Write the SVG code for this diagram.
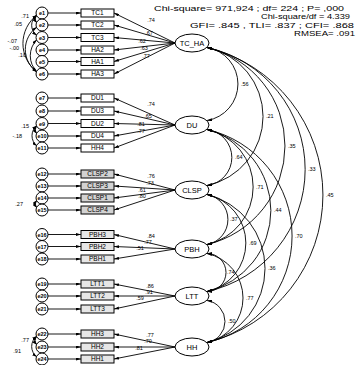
<svg xmlns="http://www.w3.org/2000/svg" width="359" height="365" viewBox="0 0 359 365">
<defs>
<marker id="ah" viewBox="0 0 10 6" refX="10" refY="3" markerWidth="5" markerHeight="3" markerUnits="userSpaceOnUse" orient="auto-start-reverse"><path d="M0,0 L10,3 L0,6 z" fill="#000"/></marker>
</defs>
<style>
.box{fill:#fff;stroke:#000;stroke-width:1}
.g1{fill:#d2d2d2}
.g2{fill:#e6e6e6}
.err{fill:#fff;stroke:#000;stroke-width:1}
.lat{fill:#fff;stroke:#000;stroke-width:1}
.t{font-family:"Liberation Sans",Arial,sans-serif;fill:#000}
.bt{font-size:6.5px;text-anchor:middle}
.et{font-size:5.5px;font-weight:bold;text-anchor:middle}
.lt{font-size:7.5px;text-anchor:middle}
.n{font-size:5.5px}
.nm{font-size:5.5px;text-anchor:middle}
.ne{font-size:5.5px;text-anchor:end}
.fit{font-size:7.2px}
.c line,.c path{stroke:#000;stroke-width:0.9;fill:none}
.a{marker-end:url(#ah)}
.d{marker-start:url(#ah);marker-end:url(#ah)}
</style>
<rect width="359" height="365" fill="#fff"/>

<g id="fit" class="t">
<text class="fit" x="154" y="10.5" textLength="190" lengthAdjust="spacingAndGlyphs">Chi-square= 971,924 ; df= 224 ; P= ,000</text>
<text class="fit" x="261" y="19" textLength="89" lengthAdjust="spacingAndGlyphs">Chi-square/df = 4.339</text>
<text class="fit" x="190" y="27.5" textLength="164" lengthAdjust="spacingAndGlyphs">GFI= .845 , TLI= .837 ; CFI= .868</text>
<text class="fit" x="294" y="36" textLength="61" lengthAdjust="spacingAndGlyphs">RMSEA= .091</text>
</g>

<g id="connectors" class="c">
<line class="a" x1="48" y1="13" x2="81" y2="13"/>
<line class="a" x1="48" y1="25" x2="81" y2="25"/>
<line class="a" x1="48" y1="37.5" x2="81" y2="37.5"/>
<line class="a" x1="48" y1="50" x2="81" y2="50"/>
<line class="a" x1="48" y1="61.5" x2="81" y2="61.5"/>
<line class="a" x1="48" y1="74" x2="81" y2="74"/>
<line class="a" x1="48" y1="98" x2="81" y2="98"/>
<line class="a" x1="48" y1="111" x2="81" y2="111"/>
<line class="a" x1="48" y1="123.5" x2="81" y2="123.5"/>
<line class="a" x1="48" y1="136" x2="81" y2="136"/>
<line class="a" x1="48" y1="148" x2="81" y2="148"/>
<line class="a" x1="48" y1="174" x2="81" y2="174"/>
<line class="a" x1="48" y1="186" x2="81" y2="186"/>
<line class="a" x1="48" y1="198" x2="81" y2="198"/>
<line class="a" x1="48" y1="210" x2="81" y2="210"/>
<line class="a" x1="48" y1="234.5" x2="81" y2="234.5"/>
<line class="a" x1="48" y1="246.5" x2="81" y2="246.5"/>
<line class="a" x1="48" y1="259" x2="81" y2="259"/>
<line class="a" x1="48" y1="284" x2="81" y2="284"/>
<line class="a" x1="48" y1="296" x2="81" y2="296"/>
<line class="a" x1="48" y1="309" x2="81" y2="309"/>
<line class="a" x1="48" y1="334" x2="81" y2="334"/>
<line class="a" x1="48" y1="347" x2="81" y2="347"/>
<line class="a" x1="48" y1="359" x2="81" y2="359"/>
<line class="a" x1="175" y1="43" x2="114" y2="13"/>
<line class="a" x1="175" y1="43" x2="114" y2="25"/>
<line class="a" x1="175" y1="43" x2="114" y2="37.5"/>
<line class="a" x1="175" y1="43" x2="114" y2="50"/>
<line class="a" x1="175" y1="43" x2="114" y2="61.5"/>
<line class="a" x1="175" y1="43" x2="114" y2="74"/>
<line class="a" x1="175" y1="125" x2="114" y2="98"/>
<line class="a" x1="175" y1="125" x2="114" y2="111"/>
<line class="a" x1="175" y1="125" x2="114" y2="123.5"/>
<line class="a" x1="175" y1="125" x2="114" y2="136"/>
<line class="a" x1="175" y1="125" x2="114" y2="148"/>
<line class="a" x1="175" y1="190" x2="114" y2="174"/>
<line class="a" x1="175" y1="190" x2="114" y2="186"/>
<line class="a" x1="175" y1="190" x2="114" y2="198"/>
<line class="a" x1="175" y1="190" x2="114" y2="210"/>
<line class="a" x1="175" y1="249" x2="114" y2="234.5"/>
<line class="a" x1="175" y1="249" x2="114" y2="246.5"/>
<line class="a" x1="175" y1="249" x2="114" y2="259"/>
<line class="a" x1="175" y1="296" x2="114" y2="284"/>
<line class="a" x1="175" y1="296" x2="114" y2="296"/>
<line class="a" x1="175" y1="296" x2="114" y2="309"/>
<line class="a" x1="175" y1="347" x2="114" y2="334"/>
<line class="a" x1="175" y1="347" x2="114" y2="347"/>
<line class="a" x1="175" y1="347" x2="114" y2="359"/>
<path class="d" d="M207,47.5 A37,37 0 0 1 207,120.5"/>
<path class="d" d="M207,47.5 A70.5,70.5 0 0 1 207,185.5"/>
<path class="d" d="M207,47.5 A101.2,101.2 0 0 1 207,244.5"/>
<path class="d" d="M207,47.5 A124.9,124.9 0 0 1 207,291.5"/>
<path class="d" d="M207,47.5 A151.8,151.8 0 0 1 207,342.5"/>
<path class="d" d="M207,129.5 A28.2,28.2 0 0 1 207,185.5"/>
<path class="d" d="M207,129.5 A58.9,58.9 0 0 1 207,244.5"/>
<path class="d" d="M207,129.5 A83.3,83.3 0 0 1 207,291.5"/>
<path class="d" d="M207,129.5 A109.2,109.2 0 0 1 207,342.5"/>
<path class="d" d="M207,194.5 A25.4,25.4 0 0 1 207,244.5"/>
<path class="d" d="M207,194.5 A49.7,49.7 0 0 1 207,291.5"/>
<path class="d" d="M207,194.5 A76.2,76.2 0 0 1 207,342.5"/>
<path class="d" d="M207,253.5 A19,19 0 0 1 207,291.5"/>
<path class="d" d="M207,253.5 A45.5,45.5 0 0 1 207,342.5"/>
<path class="d" d="M207,300.5 A21.25,21.25 0 0 1 207,342.5"/>
<path class="d" d="M37,15 A6.1,6.1 0 0 0 37,23"/>
<path class="d" d="M37,15 A12.5,12.5 0 0 0 37,35.5"/>
<path class="d" d="M37,15 A35.9,35.9 0 0 0 37,72"/>
<path class="d" d="M37,27 A27.5,27.5 0 0 0 37,72"/>
<path class="d" d="M37,39.5 A23,23 0 0 0 37,72"/>
<path class="d" d="M37,125.5 A7,7 0 0 0 37,134"/>
<path class="d" d="M37,125.5 A13,13 0 0 0 37,146"/>
<path class="d" d="M37,200 A6.5,6.5 0 0 0 37,208"/>
<path class="d" d="M37,336 A6.5,6.5 0 0 0 37,345"/>
<path class="d" d="M37,336 A13,13 0 0 0 37,357"/>
</g>

<g id="labels" class="t">
<text class="nm" x="151" y="22">.74</text>
<text class="nm" x="149" y="35">.67</text>
<text class="nm" x="142" y="43">.62</text>
<text class="nm" x="144" y="50">.63</text>
<text class="nm" x="146" y="58">.77</text>
<text class="nm" x="151" y="106">.74</text>
<text class="nm" x="148" y="118">.65</text>
<text class="nm" x="141" y="126">.81</text>
<text class="nm" x="141" y="133">.77</text>
<text class="nm" x="151" y="178">.76</text>
<text class="nm" x="150" y="185">.73</text>
<text class="nm" x="142" y="192">.61</text>
<text class="nm" x="142" y="198">.80</text>
<text class="nm" x="151" y="238">.84</text>
<text class="nm" x="148" y="244">.77</text>
<text class="nm" x="140" y="250">.51</text>
<text class="nm" x="150" y="288">.86</text>
<text class="nm" x="149" y="294">.91</text>
<text class="nm" x="140" y="300">.59</text>
<text class="nm" x="150" y="337">.77</text>
<text class="nm" x="148" y="343">.70</text>
<text class="nm" x="139" y="350">.81</text>
<text class="n" x="241" y="86">.56</text>
<text class="n" x="266" y="118">.21</text>
<text class="n" x="288" y="148">.35</text>
<text class="n" x="308" y="171">.33</text>
<text class="n" x="326" y="197">.45</text>
<text class="n" x="235" y="159">.64</text>
<text class="n" x="256" y="189">.71</text>
<text class="n" x="274" y="212">.44</text>
<text class="n" x="295" y="238">.70</text>
<text class="n" x="230" y="221">.37</text>
<text class="n" x="249" y="245">.69</text>
<text class="n" x="268" y="270">.36</text>
<text class="n" x="227" y="274">.74</text>
<text class="n" x="246" y="300">.77</text>
<text class="n" x="228" y="323">.50</text>
<text class="ne" x="29" y="18">.71</text>
<text class="ne" x="22" y="26">.05</text>
<text class="ne" x="17" y="43">-.07</text>
<text class="ne" x="19" y="50">-.00</text>
<text class="ne" x="26" y="57">.10</text>
<text class="ne" x="29" y="128">.15</text>
<text class="ne" x="22" y="138">-.18</text>
<text class="ne" x="23" y="206">.27</text>
<text class="ne" x="29" y="342">.77</text>
<text class="ne" x="21" y="353">.91</text>
</g>

<g id="errors" class="t">
<g id="e1"><circle class="err" cx="42" cy="13" r="6"/><text class="et" x="42" y="15">e1</text></g>
<g id="e2"><circle class="err" cx="42" cy="25" r="6"/><text class="et" x="42" y="27">e2</text></g>
<g id="e3"><circle class="err" cx="42" cy="37.5" r="6"/><text class="et" x="42" y="39.5">e3</text></g>
<g id="e4"><circle class="err" cx="42" cy="50" r="6"/><text class="et" x="42" y="52">e4</text></g>
<g id="e5"><circle class="err" cx="42" cy="61.5" r="6"/><text class="et" x="42" y="63.5">e5</text></g>
<g id="e6"><circle class="err" cx="42" cy="74" r="6"/><text class="et" x="42" y="76">e6</text></g>
<g id="e7"><circle class="err" cx="42" cy="98" r="6"/><text class="et" x="42" y="100">e7</text></g>
<g id="e8"><circle class="err" cx="42" cy="111" r="6"/><text class="et" x="42" y="113">e8</text></g>
<g id="e9"><circle class="err" cx="42" cy="123.5" r="6"/><text class="et" x="42" y="125.5">e9</text></g>
<g id="e10"><circle class="err" cx="42" cy="136" r="6"/><text class="et" x="42" y="138">e10</text></g>
<g id="e11"><circle class="err" cx="42" cy="148" r="6"/><text class="et" x="42" y="150">e11</text></g>
<g id="e12"><circle class="err" cx="42" cy="174" r="6"/><text class="et" x="42" y="176">e12</text></g>
<g id="e13"><circle class="err" cx="42" cy="186" r="6"/><text class="et" x="42" y="188">e13</text></g>
<g id="e14"><circle class="err" cx="42" cy="198" r="6"/><text class="et" x="42" y="200">e14</text></g>
<g id="e15"><circle class="err" cx="42" cy="210" r="6"/><text class="et" x="42" y="212">e15</text></g>
<g id="e16"><circle class="err" cx="42" cy="234.5" r="6"/><text class="et" x="42" y="236.5">e16</text></g>
<g id="e17"><circle class="err" cx="42" cy="246.5" r="6"/><text class="et" x="42" y="248.5">e17</text></g>
<g id="e18"><circle class="err" cx="42" cy="259" r="6"/><text class="et" x="42" y="261">e18</text></g>
<g id="e19"><circle class="err" cx="42" cy="284" r="6"/><text class="et" x="42" y="286">e19</text></g>
<g id="e20"><circle class="err" cx="42" cy="296" r="6"/><text class="et" x="42" y="298">e20</text></g>
<g id="e21"><circle class="err" cx="42" cy="309" r="6"/><text class="et" x="42" y="311">e21</text></g>
<g id="e22"><circle class="err" cx="42" cy="334" r="6"/><text class="et" x="42" y="336">e22</text></g>
<g id="e23"><circle class="err" cx="42" cy="347" r="6"/><text class="et" x="42" y="349">e23</text></g>
<g id="e24"><circle class="err" cx="42" cy="359" r="6"/><text class="et" x="42" y="361">e24</text></g>
</g>

<g id="indicators" class="t">
<g id="TC1"><rect class="box" x="81" y="9" width="33" height="8"/><text class="bt" x="97.5" y="15.3">TC1</text></g>
<g id="TC2"><rect class="box" x="81" y="21" width="33" height="8"/><text class="bt" x="97.5" y="27.3">TC2</text></g>
<g id="TC3"><rect class="box" x="81" y="33.5" width="33" height="8"/><text class="bt" x="97.5" y="39.8">TC3</text></g>
<g id="HA2"><rect class="box" x="81" y="46" width="33" height="8"/><text class="bt" x="97.5" y="52.3">HA2</text></g>
<g id="HA1"><rect class="box" x="81" y="57.5" width="33" height="8"/><text class="bt" x="97.5" y="63.8">HA1</text></g>
<g id="HA3"><rect class="box" x="81" y="70" width="33" height="8"/><text class="bt" x="97.5" y="76.3">HA3</text></g>
<g id="DU1"><rect class="box" x="81" y="94" width="33" height="8"/><text class="bt" x="97.5" y="100.3">DU1</text></g>
<g id="DU3"><rect class="box" x="81" y="107" width="33" height="8"/><text class="bt" x="97.5" y="113.3">DU3</text></g>
<g id="DU2"><rect class="box" x="81" y="119.5" width="33" height="8"/><text class="bt" x="97.5" y="125.8">DU2</text></g>
<g id="DU4"><rect class="box" x="81" y="132" width="33" height="8"/><text class="bt" x="97.5" y="138.3">DU4</text></g>
<g id="HH4"><rect class="box" x="81" y="144" width="33" height="8"/><text class="bt" x="97.5" y="150.3">HH4</text></g>
<g id="CLSP2"><rect class="box g1" x="81" y="170" width="33" height="8"/><text class="bt" x="97.5" y="176.3">CLSP2</text></g>
<g id="CLSP3"><rect class="box g1" x="81" y="182" width="33" height="8"/><text class="bt" x="97.5" y="188.3">CLSP3</text></g>
<g id="CLSP1"><rect class="box g1" x="81" y="194" width="33" height="8"/><text class="bt" x="97.5" y="200.3">CLSP1</text></g>
<g id="CLSP4"><rect class="box g1" x="81" y="206" width="33" height="8"/><text class="bt" x="97.5" y="212.3">CLSP4</text></g>
<g id="PBH3"><rect class="box g2" x="81" y="230.5" width="33" height="8"/><text class="bt" x="97.5" y="236.8">PBH3</text></g>
<g id="PBH2"><rect class="box g2" x="81" y="242.5" width="33" height="8"/><text class="bt" x="97.5" y="248.8">PBH2</text></g>
<g id="PBH1"><rect class="box g2" x="81" y="255" width="33" height="8"/><text class="bt" x="97.5" y="261.3">PBH1</text></g>
<g id="LTT1"><rect class="box g2" x="81" y="280" width="33" height="8"/><text class="bt" x="97.5" y="286.3">LTT1</text></g>
<g id="LTT2"><rect class="box g2" x="81" y="292" width="33" height="8"/><text class="bt" x="97.5" y="298.3">LTT2</text></g>
<g id="LTT3"><rect class="box g2" x="81" y="305" width="33" height="8"/><text class="bt" x="97.5" y="311.3">LTT3</text></g>
<g id="HH3"><rect class="box g2" x="81" y="330" width="33" height="8"/><text class="bt" x="97.5" y="336.3">HH3</text></g>
<g id="HH2"><rect class="box g2" x="81" y="343" width="33" height="8"/><text class="bt" x="97.5" y="349.3">HH2</text></g>
<g id="HH1"><rect class="box g2" x="81" y="355" width="33" height="8"/><text class="bt" x="97.5" y="361.3">HH1</text></g>
</g>

<g id="latents" class="t">
<g id="TC_HA"><ellipse class="lat" cx="192" cy="43" rx="17" ry="9"/><text class="lt" x="192" y="45.7">TC_HA</text></g>
<g id="DU"><ellipse class="lat" cx="192" cy="125" rx="17" ry="9"/><text class="lt" x="192" y="127.7">DU</text></g>
<g id="CLSP"><ellipse class="lat" cx="192" cy="190" rx="17" ry="9"/><text class="lt" x="192" y="192.7">CLSP</text></g>
<g id="PBH"><ellipse class="lat" cx="192" cy="249" rx="17" ry="9"/><text class="lt" x="192" y="251.7">PBH</text></g>
<g id="LTT"><ellipse class="lat" cx="192" cy="296" rx="17" ry="9"/><text class="lt" x="192" y="298.7">LTT</text></g>
<g id="HH"><ellipse class="lat" cx="192" cy="347" rx="17" ry="9"/><text class="lt" x="192" y="349.7">HH</text></g>
</g>
</svg>
